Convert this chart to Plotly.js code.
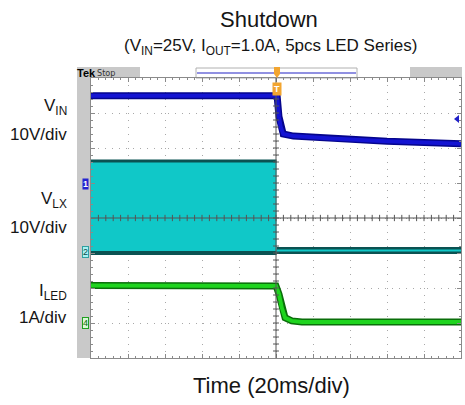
<!DOCTYPE html>
<html><head><meta charset="utf-8">
<script src="https://cdn.plot.ly/plotly-3.0.1.min.js"></script>
<style>html,body{margin:0;padding:0;background:#fff}#chart{width:465px;height:405px}</style>
</head><body><div id="chart"></div>
<script>
// ---- data ----
const timeRange = [-100, 100];          // ms, 20 ms/div, trigger at 0
const vin_t  = [-100, 0.6, 1.6, 2.5, 3.9, 9.4, 30, 60, 100];
const vin_v  = [24.9, 24.9, 19.0, 16.1, 14.0, 13.4, 12.7, 11.9, 11.2];
const vlx_on_t = [-100, 0.3];
const vlx_on_hi = [26.0, 26.0];
const vlx_on_lo = [-0.3, -0.3];
const vlx_off_t = [0.3, 2, 100];
const vlx_off_v = [0.4, 0.4, 0.4];
const iled_t = [-100, 0, 1.6, 3.1, 4.9, 8.5, 14, 100];
const iled_a = [1.10, 1.09, 0.86, 0.47, 0.18, 0.09, 0.06, 0.06];
const channelLabels = ['V<sub>IN</sub>', 'V<sub>LX</sub>', 'I<sub>LED</sub>'];
const scaleLabels = ['10V/div', '10V/div', '1A/div'];

// channel display settings (div offsets / scales)
const ch1 = {off: 5.0, scale: 10};
const ch2 = {off: 3.03, scale: 10};
const ch4 = {off: 0.97, scale: 1};
const toDiv = (arr, ch) => arr.map(v => ch.off + v / ch.scale);

const L = 91, R = 461, T = 78, B = 358;
const px = x => (x - L) / (R - L);
const py = y => (B - y) / (B - T);

const FONT = 'Liberation Sans, Arial, sans-serif';
const blueDark = '#05058c', blue = '#1414d2';
const cyan = '#10c8c8', teal = '#0b5252';
const greenDark = '#0a6e0a', green = '#1ed41e';

const traces = [
  {x: vlx_on_t, y: toDiv(vlx_on_lo, ch2), mode: 'lines', line: {color: teal, width: 4}},
  {x: vlx_on_t, y: toDiv(vlx_on_hi, ch2), mode: 'lines', fill: 'tonexty', fillcolor: cyan, line: {color: teal, width: 3}},
  {x: vlx_off_t, y: toDiv(vlx_off_v, ch2), mode: 'lines', line: {color: teal, width: 7}},
  {x: vlx_off_t, y: toDiv(vlx_off_v, ch2), mode: 'lines', line: {color: cyan, width: 2}},
  {x: vin_t, y: toDiv(vin_v, ch1), mode: 'lines', line: {color: blueDark, width: 7}},
  {x: vin_t, y: toDiv(vin_v, ch1), mode: 'lines', line: {color: blue, width: 4}},
  {x: iled_t, y: toDiv(iled_a, ch4), mode: 'lines', line: {color: greenDark, width: 7}},
  {x: iled_t, y: toDiv(iled_a, ch4), mode: 'lines', line: {color: green, width: 4}}
];
traces.forEach(t => { t.hoverinfo = 'skip'; t.showlegend = false; });

const shapes = [];
// left gray strip and header
const rectPx = (x0, y0, x1, y1, fill, lineCol) => shapes.push({type: 'rect', xref: 'paper', yref: 'paper',
  x0: px(x0), x1: px(x1), y0: py(y1), y1: py(y0), fillcolor: fill,
  line: {color: lineCol || fill, width: lineCol ? 1 : 0}, layer: 'below'});
rectPx(77, 67, 91, 358, '#c9c9c9');
rectPx(77, 67, 140, 78, '#c9c9c9');
rectPx(410, 67, 462, 78, '#c9c9c9');
rectPx(196, 68, 357, 78, '#ffffff', '#b0b0b0');
shapes.push({type: 'line', xref: 'paper', yref: 'paper', x0: px(197), x1: px(356), y0: py(73), y1: py(73), line: {color: '#6c6cd8', width: 1.5}});
// trigger marker in header
shapes.push({type: 'path', xref: 'paper', yref: 'paper',
  path: `M ${px(274)} ${py(67)} L ${px(280)} ${py(67)} L ${px(280)} ${py(74)} L ${px(277)} ${py(78)} L ${px(274)} ${py(74)} Z`,
  fillcolor: '#f2a530', line: {width: 0}});
// right trigger-level arrow
shapes.push({type: 'path', xref: 'paper', yref: 'paper',
  path: `M ${px(454)} ${py(119)} L ${px(459)} ${py(115)} L ${px(459)} ${py(123)} Z`,
  fillcolor: '#2020c8', line: {width: 0}});
// graticule center lines with subdivision ticks
shapes.push({type: 'line', xref: 'x', yref: 'y', x0: 0, x1: 0, y0: 0, y1: 8, line: {color: '#555', width: 1}});
shapes.push({type: 'line', xref: 'x', yref: 'y', x0: -100, x1: 100, y0: 4, y1: 4, line: {color: '#555', width: 1}});
for (let i = 1; i < 50; i++) {
  const xv = -100 + 4 * i;
  shapes.push({type: 'line', xref: 'x', yref: 'y', x0: xv, x1: xv, y0: 3.91, y1: 4.09, line: {color: '#555', width: 1}});
}
for (let j = 1; j < 40; j++) {
  const yv = 0.2 * j;
  shapes.push({type: 'line', xref: 'x', yref: 'y', x0: -1.6, x1: 1.6, y0: yv, y1: yv, line: {color: '#555', width: 1}});
}

const annotations = [];
const ann = (text, x, y, size, opts) => annotations.push(Object.assign({
  text, xref: 'paper', yref: 'paper', x: px(x), y: py(y), showarrow: false,
  xanchor: 'center', yanchor: 'middle', font: {family: FONT, size, color: '#151515'}}, opts || {}));

ann('Shutdown', 269, 19, 22);
ann('(V<sub>IN</sub>=25V, I<sub>OUT</sub>=1.0A, 5pcs LED Series)', 270, 47, 17);
ann('Time (20ms/div)', 271, 385, 22);
const labY = [[107, 134], [200, 227], [292, 317]];
for (let k = 0; k < 3; k++) {
  ann(channelLabels[k], 69, labY[k][0], 17, {xanchor: 'right'});
  ann(scaleLabels[k], 69, labY[k][1], 17, {xanchor: 'right'});
}
ann('<b>Tek</b>', 86, 73, 11, {font: {family: FONT, size: 11, color: '#000'}});
ann('Stop', 106, 73, 9, {font: {family: 'DejaVu Sans Condensed, ' + FONT, size: 9, color: '#333'}});
ann('<b>T</b>', 277, 89, 9, {font: {family: FONT, size: 9, color: '#fff'}, bgcolor: '#f2a530', borderpad: 1});
ann('<b>1</b>', 85, 184, 9, {font: {family: FONT, size: 9, color: '#fff'}, bgcolor: '#2424d0', borderpad: 0});
ann('2', 85, 252, 9, {font: {family: FONT, size: 9, color: '#0a4a4a'}, bgcolor: '#a8f2f2', bordercolor: '#30a0a0', borderpad: 0});
ann('4', 85, 323, 9, {font: {family: FONT, size: 9, color: '#0a6a0a'}, bgcolor: '#d8f8d8', bordercolor: '#20a020', borderpad: 0});

const axisCommon = {
  showgrid: true, gridcolor: '#a8a8a8', griddash: '1px,6px', gridwidth: 1,
  zeroline: false, showticklabels: false, ticks: 'inside', ticklen: 4, tickcolor: '#8a8a8a',
  showline: true, linecolor: '#8a8a8a', linewidth: 1, mirror: 'ticks', fixedrange: true
};
const layout = {
  width: 465, height: 405,
  margin: {l: L, r: 465 - R, t: T, b: 405 - B, pad: 0},
  paper_bgcolor: '#ffffff', plot_bgcolor: '#ffffff', showlegend: false,
  xaxis: Object.assign({}, axisCommon, {range: timeRange, tick0: -100, dtick: 20,
    minor: {dtick: 4, ticks: 'inside', ticklen: 2, tickcolor: '#8a8a8a', showgrid: false}}),
  yaxis: Object.assign({}, axisCommon, {range: [0, 8], tick0: 0, dtick: 1,
    minor: {dtick: 0.2, ticks: 'inside', ticklen: 2, tickcolor: '#8a8a8a', showgrid: false}}),
  shapes, annotations
};
Plotly.newPlot('chart', traces, layout, {staticPlot: true, displayModeBar: false});
</script></body></html>
